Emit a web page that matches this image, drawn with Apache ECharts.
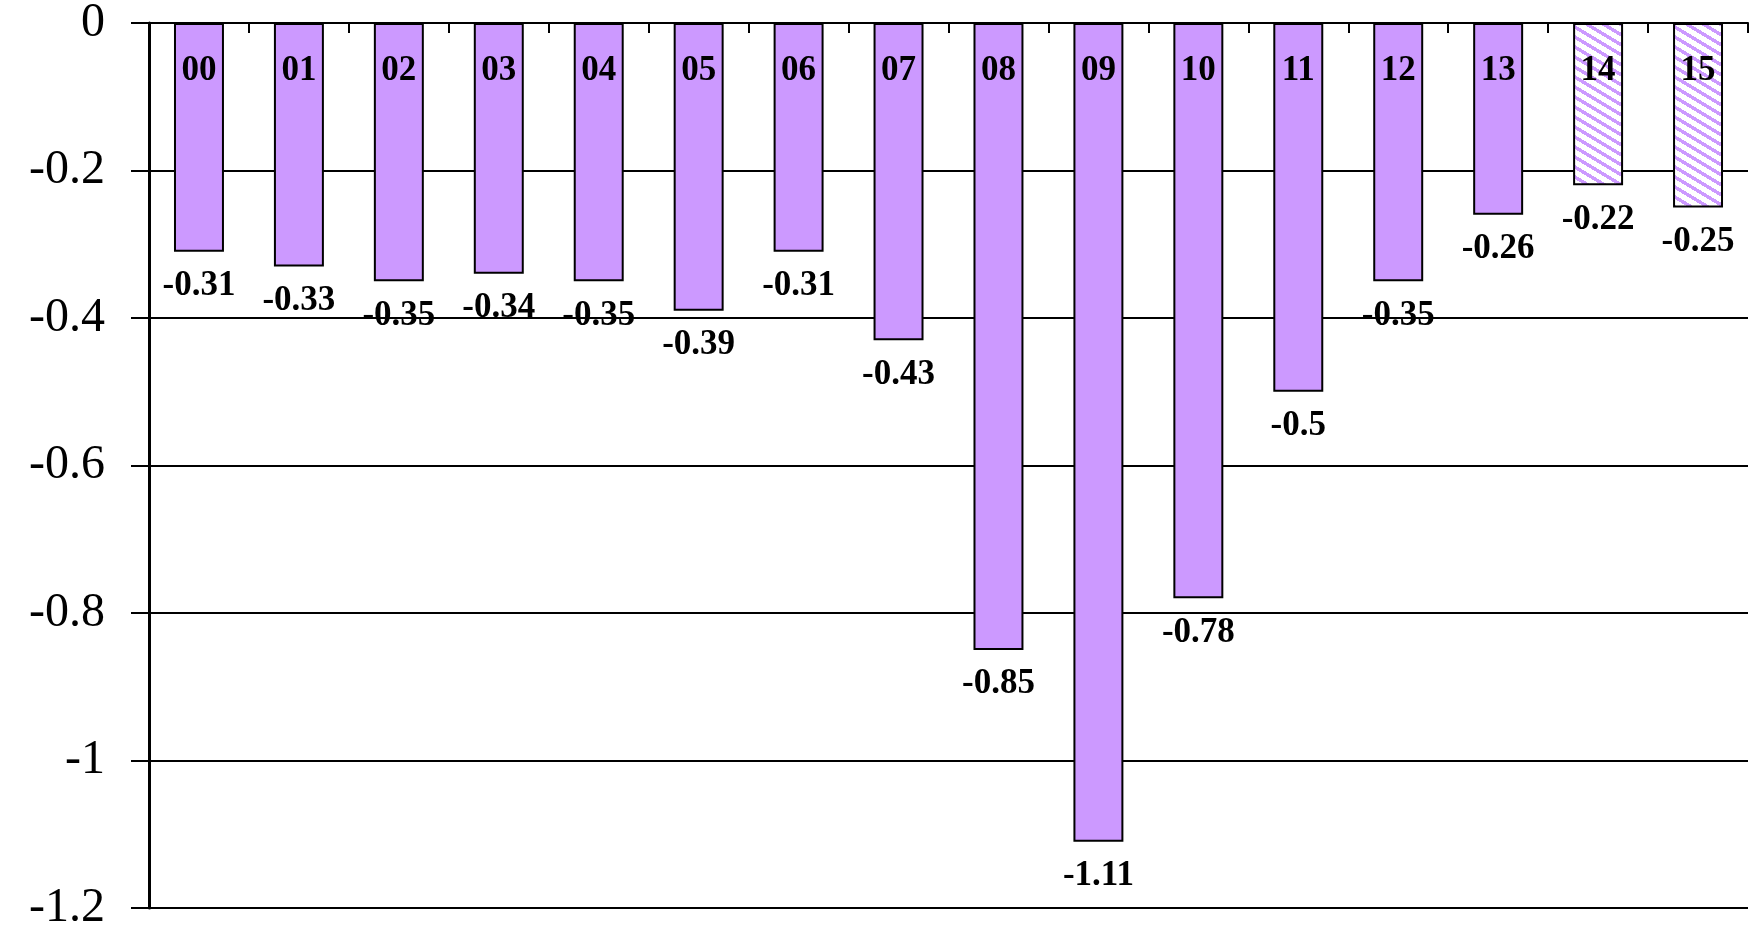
<!DOCTYPE html>
<html>
<head>
<meta charset="utf-8">
<script src="https://cdn.jsdelivr.net/npm/echarts@6/dist/echarts.min.js"></script>
<style>
  html, body { margin: 0; padding: 0; background: #fff; }
  #chart { width: 1756px; height: 926px; }
</style>
</head>
<body>
<div id="chart"></div>
<script>
var categories = ['00', '01', '02', '03', '04', '05', '06', '07', '08', '09', '10', '11', '12', '13', '14', '15'];
var values = [-0.31, -0.33, -0.35, -0.34, -0.35, -0.39, -0.31, -0.43, -0.85, -1.11, -0.78, -0.5, -0.35, -0.26, -0.22, -0.25];
// last two bars are drawn hatched
var hatched = ['14', '15'];

var purple = '#CC99FF';

// striped pattern for the hatched bars (stripes fall to the right)
function makeStripes() {
    var w = 50, h = 10;
    var c = document.createElement('canvas');
    c.width = w;
    c.height = h;
    var ctx = c.getContext('2d');
    var img = ctx.createImageData(w, h);
    for (var y = 0; y < h; y++) {
        for (var x = 0; x < w; x++) {
            var k = (y * w + x) * 4;
            var d = (((y - 0.6 * x) % 10) + 10) % 10;
            var on = d < 4;
            img.data[k] = on ? 0xCC : 255;
            img.data[k + 1] = on ? 0x99 : 255;
            img.data[k + 2] = 255;
            img.data[k + 3] = 255;
        }
    }
    ctx.putImageData(img, 0, 0);
    return c;
}
var stripes = makeStripes();

var barData = [];
for (var i = 0; i < values.length; i++) {
    var item = {value: values[i]};
    if (hatched.indexOf(categories[i]) >= 0) {
        item.itemStyle = {color: {image: stripes, repeat: 'repeat'}};
    }
    barData.push(item);
}

var chart = echarts.init(document.getElementById('chart'));
var option = {
    animation: false,
    backgroundColor: '#fff',
    grid: {left: 149, right: 8, top: 23, bottom: 18, outerBoundsMode: 'none'},
    xAxis: {
        type: 'category',
        position: 'top',
        data: categories,
        z: 10,
        axisLine: {lineStyle: {color: '#000', width: 2}},
        axisTick: {show: true, inside: true, length: 10, lineStyle: {color: '#000', width: 2}},
        axisLabel: {
            inside: true,
            margin: 30,
            color: '#000',
            fontFamily: 'Liberation Serif',
            fontWeight: 'bold',
            fontSize: 35
        }
    },
    yAxis: {
        type: 'value',
        min: -1.2,
        max: 0,
        interval: 0.2,
        axisLine: {show: true, lineStyle: {color: '#000', width: 3}},
        axisTick: {show: true, length: 18, lineStyle: {color: '#000', width: 2}},
        splitLine: {lineStyle: {color: '#000', width: 2}},
        axisLabel: {
            margin: 44,
            color: '#000',
            fontFamily: 'Liberation Serif',
            fontSize: 48
        }
    },
    series: [{
        type: 'bar',
        data: barData,
        barWidth: '50%',
        itemStyle: {color: purple, borderColor: '#000', borderWidth: 2},
        label: {
            show: true,
            position: 'bottom',
            distance: 17,
            color: '#000',
            fontFamily: 'Liberation Serif',
            fontWeight: 'bold',
            fontSize: 35
        }
    }]
};
chart.setOption(option);
</script>
</body>
</html>
